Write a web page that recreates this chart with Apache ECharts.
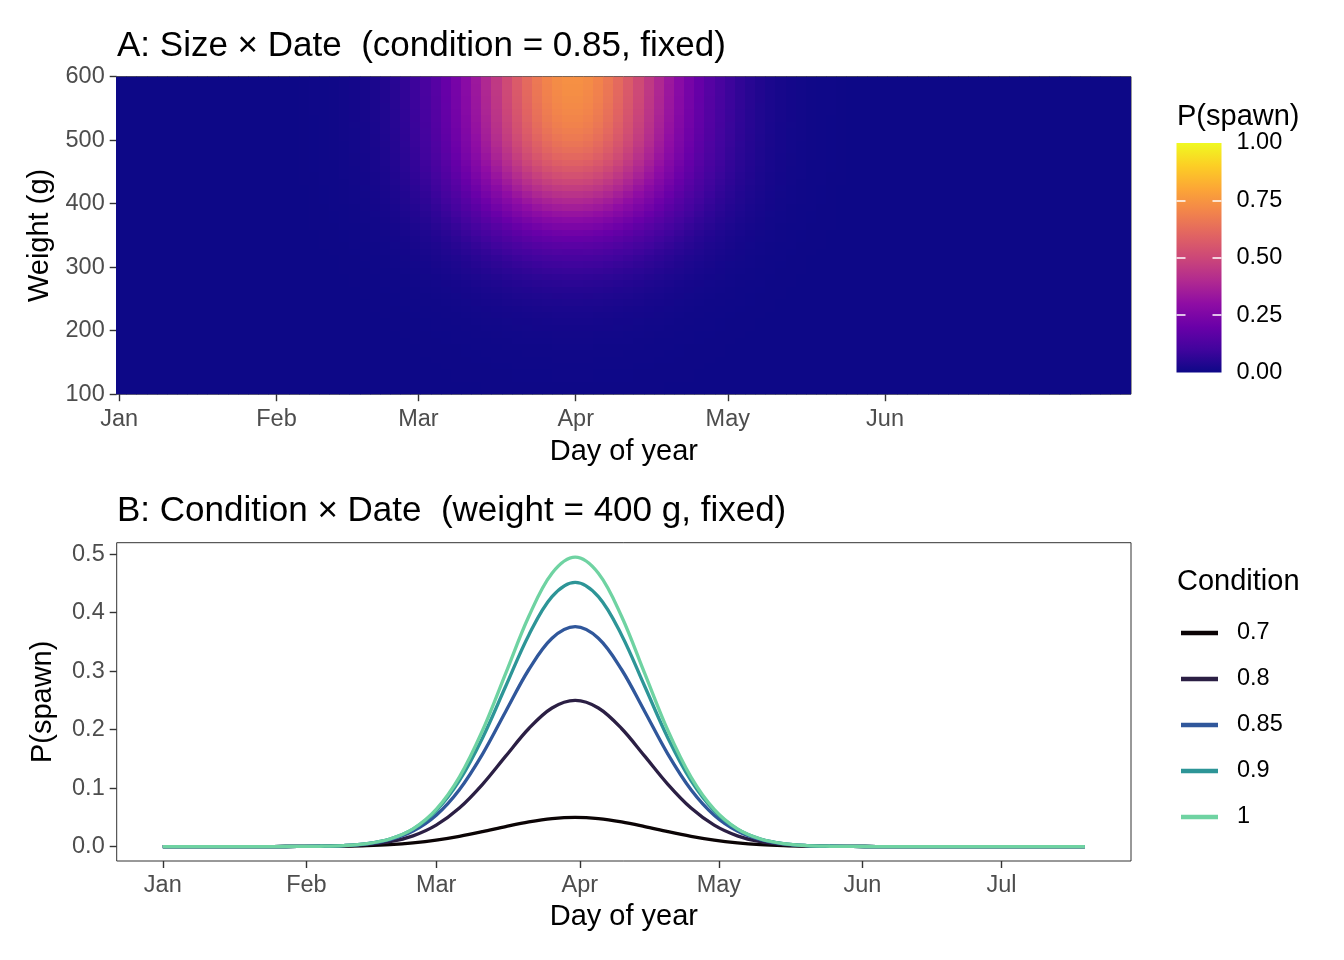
<!DOCTYPE html>
<html>
<head>
<meta charset="utf-8">
<title>P(spawn) by size, condition and date</title>
<script src="https://cdn.jsdelivr.net/npm/echarts@6/dist/echarts.min.js"></script>
<style>
  html, body { margin: 0; padding: 0; background: #fff; }
  #chart { width: 1344px; height: 960px; }
</style>
</head>
<body>
<div id="chart"></div>
<script>
// month ticks (day of year of the 1st of each month)
var monthDays = [1, 32, 60, 91, 121, 152, 182];
var monthNames = ['Jan', 'Feb', 'Mar', 'Apr', 'May', 'Jun', 'Jul'];

// panel A: cells are 2 days wide and 10 g tall
var heatDayFirst = 1.5, heatDayStep = 2;
var heatWeightFirst = 105, heatWeightStep = 10;

// relative seasonal level of each 2-day column (1 = peak, end of March)
var seasonShape = [
  0, 0, 0, 0, 0, 0, 0, 0, 0, 0, 0, 0, 0, 0, 0,
  0.001, 0.001, 0.001, 0.002, 0.004, 0.006, 0.008, 0.013, 0.018, 0.026,
  0.037, 0.052, 0.071, 0.095, 0.125, 0.162, 0.206, 0.259, 0.318, 0.385,
  0.458, 0.535, 0.615, 0.694, 0.770, 0.839, 0.899, 0.947, 0.981, 0.998,
  0.998, 0.981, 0.947, 0.899, 0.839, 0.770, 0.694, 0.615, 0.535, 0.458,
  0.385, 0.318, 0.259, 0.206, 0.162, 0.125, 0.095, 0.071, 0.052, 0.037,
  0.026, 0.018, 0.013, 0.008, 0.006, 0.004, 0.002, 0.001, 0.001, 0.001,
  0, 0, 0, 0, 0, 0, 0, 0, 0, 0, 0, 0, 0, 0, 0, 0, 0, 0, 0, 0, 0, 0, 0, 0, 0
];

// P(spawn) on the peak day for each 10 g row (105 g ... 595 g)
var sizePeak = [
  0.002, 0.002, 0.003, 0.003, 0.004, 0.005, 0.006, 0.007, 0.009, 0.011,
  0.014, 0.017, 0.021, 0.026, 0.032, 0.039, 0.047, 0.057, 0.069, 0.083,
  0.099, 0.117, 0.138, 0.162, 0.189, 0.218, 0.250, 0.285, 0.322, 0.359,
  0.395, 0.432, 0.468, 0.502, 0.535, 0.564, 0.591, 0.615, 0.636, 0.654,
  0.670, 0.684, 0.695, 0.705, 0.713, 0.720, 0.725, 0.730, 0.734, 0.737
];

// panel B: P(spawn) at 400 g for each condition
var lineDays = [1, 5, 10, 15, 20, 25, 30, 35, 40, 45, 50, 55, 60, 65, 70, 75, 80, 85, 90, 95,
  100, 105, 110, 115, 120, 125, 130, 135, 140, 145, 150, 155, 160, 165, 170, 175, 180, 185, 190, 195, 200];
var cond070 = [0, 0, 0, 0, 0, 0, 0.0001, 0.0003, 0.0007, 0.0016, 0.0033, 0.0063, 0.0109, 0.0174, 0.0254,
  0.0342, 0.0422, 0.0479, 0.0500, 0.0479, 0.0422, 0.0342, 0.0254, 0.0174, 0.0109, 0.0063, 0.0033,
  0.0016, 0.0007, 0.0003, 0.0001, 0, 0, 0, 0, 0, 0, 0, 0, 0, 0];
var cond080 = [0, 0, 0, 0, 0, 0, 0.0001, 0.0004, 0.0012, 0.0033, 0.0082, 0.0183, 0.0366, 0.0658, 0.1064,
  0.1546, 0.2019, 0.2370, 0.2500, 0.2370, 0.2019, 0.1546, 0.1064, 0.0658, 0.0366, 0.0183, 0.0082,
  0.0033, 0.0012, 0.0004, 0.0001, 0, 0, 0, 0, 0, 0, 0, 0, 0, 0];
var cond085 = [0, 0, 0, 0, 0, 0, 0.0002, 0.0005, 0.0017, 0.0047, 0.0118, 0.0265, 0.0536, 0.0972, 0.1582,
  0.2311, 0.3028, 0.3562, 0.3760, 0.3562, 0.3028, 0.2311, 0.1582, 0.0972, 0.0536, 0.0265, 0.0118,
  0.0047, 0.0017, 0.0005, 0.0002, 0, 0, 0, 0, 0, 0, 0, 0, 0, 0];
var cond090 = [0, 0, 0, 0, 0, 0, 0.0002, 0.0005, 0.0017, 0.0050, 0.0129, 0.0297, 0.0612, 0.1127, 0.1858,
  0.2741, 0.3619, 0.4275, 0.4520, 0.4275, 0.3619, 0.2741, 0.1858, 0.1127, 0.0612, 0.0297, 0.0129,
  0.0050, 0.0017, 0.0005, 0.0002, 0, 0, 0, 0, 0, 0, 0, 0, 0, 0];
var cond100 = [0, 0, 0, 0, 0, 0, 0.0001, 0.0005, 0.0016, 0.0049, 0.0128, 0.0302, 0.0635, 0.1188, 0.1986,
  0.2962, 0.3940, 0.4675, 0.4950, 0.4675, 0.3940, 0.2962, 0.1986, 0.1188, 0.0635, 0.0302, 0.0128,
  0.0049, 0.0016, 0.0005, 0.0001, 0, 0, 0, 0, 0, 0, 0, 0, 0, 0];

var condNames = ['0.7', '0.8', '0.85', '0.9', '1'];
var condSeries = [cond070, cond080, cond085, cond090, cond100];
var condColors = ['#0b0405', '#2b1f44', '#30579b', '#2d9597', '#6fd3a2'];

var plasma = ['#0d0887', '#41049d', '#6a00a8', '#8f0da4', '#b12a90', '#cc4778',
  '#e16462', '#f2844b', '#fca636', '#fcce25', '#f0f921'];

var FONT = "'Liberation Sans', Arial, sans-serif";
var tickGrey = '#4d4d4d';

// heatmap cells: season column x size row (the blob reads as the product of the two)
var heatCells = [];
for (var i = 0; i < seasonShape.length; i++) {
  for (var j = 0; j < sizePeak.length; j++) {
    heatCells.push([heatDayFirst + i * heatDayStep, heatWeightFirst + j * heatWeightStep,
      +(seasonShape[i] * sizePeak[j]).toFixed(4)]);
  }
}

function monthLabel(v) {
  var k = monthDays.indexOf(Math.round(v));
  return k >= 0 ? monthNames[k] : '';
}

var myChart = echarts.init(document.getElementById('chart'), null, { renderer: 'canvas' });

var axisTickStyle = { show: true, length: 7, lineStyle: { color: '#333', width: 1.4 } };
var labelStyle = { fontSize: 23.5, color: tickGrey, fontFamily: FONT };
var noLine = { show: false, onZero: false };

var option = {
  animation: false,
  backgroundColor: '#fff',
  textStyle: { fontFamily: FONT },
  title: [
    { text: 'A: Size \u00d7 Date  (condition = 0.85, fixed)', left: 117, top: 26, padding: 0,
      textStyle: { fontSize: 35, fontWeight: 'normal', color: '#000', lineHeight: 40 } },
    { text: 'B: Condition \u00d7 Date  (weight = 400 g, fixed)', left: 117, top: 491, padding: 0,
      textStyle: { fontSize: 35, fontWeight: 'normal', color: '#000', lineHeight: 40 } },
    { text: 'P(spawn)', left: 1177, top: 101, padding: 0,
      textStyle: { fontSize: 29, fontWeight: 'normal', color: '#000', lineHeight: 32 } },
    { text: 'Condition', left: 1177, top: 566, padding: 0,
      textStyle: { fontSize: 29, fontWeight: 'normal', color: '#000', lineHeight: 32 } }
  ],
  grid: [
    { left: 116.7, top: 76.7, width: 1014.3, height: 317.5, show: true,
      borderColor: '#333', borderWidth: 1, backgroundColor: 'transparent' },
    { left: 116.7, top: 542.7, width: 1014.3, height: 318.3, show: true,
      borderColor: '#333', borderWidth: 1, backgroundColor: 'transparent' },
    { left: 1176.5, top: 143, width: 45, height: 229.5 }
  ],
  visualMap: {
    show: false, type: 'continuous', min: 0, max: 1, dimension: 2, seriesIndex: 0,
    inRange: { color: plasma }
  },
  legend: {
    data: condNames, orient: 'vertical', left: 1181, top: 621, padding: 0,
    icon: 'rect', itemWidth: 37, itemHeight: 4.5, itemGap: 22,
    textStyle: { fontSize: 23.5, color: '#000', lineHeight: 24, padding: [0, 0, 0, 14] },
    selectedMode: false
  },
  xAxis: [
    { gridIndex: 0, type: 'value', min: 0.5, max: 200.5,
      name: 'Day of year', nameLocation: 'middle', nameGap: 43,
      nameTextStyle: { fontSize: 29, color: '#000' },
      axisLine: noLine, splitLine: { show: false },
      axisTick: Object.assign({ customValues: monthDays.slice(0, 6) }, axisTickStyle),
      axisLabel: Object.assign({ customValues: monthDays.slice(0, 6), margin: 13, formatter: monthLabel }, labelStyle) },
    { gridIndex: 1, type: 'value', min: -8.95, max: 209.95,
      name: 'Day of year', nameLocation: 'middle', nameGap: 41,
      nameTextStyle: { fontSize: 29, color: '#000' },
      axisLine: noLine, splitLine: { show: false },
      axisTick: Object.assign({ customValues: monthDays }, axisTickStyle),
      axisLabel: Object.assign({ customValues: monthDays, margin: 13, formatter: monthLabel }, labelStyle) },
    { gridIndex: 2, type: 'value', min: 0, max: 1, show: false, axisLine: noLine }
  ],
  yAxis: [
    { gridIndex: 0, type: 'value', min: 100, max: 600, interval: 100,
      name: 'Weight (g)', nameLocation: 'middle', nameGap: 59,
      nameTextStyle: { fontSize: 29, color: '#000' },
      axisLine: noLine, splitLine: { show: false },
      axisTick: axisTickStyle,
      axisLabel: Object.assign({ margin: 12, padding: [8, 0, 0, 0] }, labelStyle) },
    { gridIndex: 1, type: 'value', min: -0.02475, max: 0.5197,
      name: 'P(spawn)', nameLocation: 'middle', nameGap: 59,
      nameTextStyle: { fontSize: 29, color: '#000' },
      axisLine: noLine, splitLine: { show: false },
      axisTick: Object.assign({ customValues: [0, 0.1, 0.2, 0.3, 0.4, 0.5] }, axisTickStyle),
      axisLabel: Object.assign({ customValues: [0, 0.1, 0.2, 0.3, 0.4, 0.5], margin: 12,
        padding: [2, 0, 0, 0],
        formatter: function (v) { return v.toFixed(1); } }, labelStyle) },
    { gridIndex: 2, type: 'value', min: 0, max: 1, position: 'right', z: 10,
      axisLine: noLine, splitLine: { show: false },
      axisTick: { show: true, inside: true, length: 9, customValues: [0.25, 0.5, 0.75],
        lineStyle: { color: '#fff', width: 1.5 } },
      axisLabel: { customValues: [0, 0.25, 0.5, 0.75, 1], margin: 15, fontSize: 23.5, color: '#000',
        padding: [2, 0, 0, 0],
        formatter: function (v) { return v.toFixed(2); } } },
    { gridIndex: 2, type: 'value', min: 0, max: 1, position: 'left', z: 10,
      axisLine: noLine, splitLine: { show: false }, axisLabel: { show: false },
      axisTick: { show: true, inside: true, length: 9, customValues: [0.25, 0.5, 0.75],
        lineStyle: { color: '#fff', width: 1.5 } } }
  ],
  series: []
};

// panel A heatmap
option.series.push({
  type: 'custom',
  name: 'heat',
  xAxisIndex: 0, yAxisIndex: 0,
  data: heatCells,
  progressive: 0,
  clip: true,
  z: 1,
  renderItem: function (params, api) {
    var d = api.value(0), w = api.value(1);
    var a = api.coord([d - heatDayStep / 2, w - heatWeightStep / 2]);
    var b = api.coord([d + heatDayStep / 2, w + heatWeightStep / 2]);
    var x0 = Math.floor(a[0]), x1 = Math.ceil(b[0]);
    var y0 = Math.floor(b[1]), y1 = Math.ceil(a[1]);
    return {
      type: 'rect',
      shape: { x: x0, y: y0, width: x1 - x0, height: y1 - y0 },
      style: { fill: api.visual('color') }
    };
  }
});

// colour bar for P(spawn)
option.series.push({
  type: 'custom',
  name: 'colourbar',
  xAxisIndex: 2, yAxisIndex: 3,
  data: [[0, 0]],
  z: 1,
  renderItem: function (params, api) {
    var lo = api.coord([0, 0]), hi = api.coord([1, 1]);
    var stops = plasma.map(function (c, k) { return { offset: k / (plasma.length - 1), color: c }; });
    return {
      type: 'rect',
      shape: { x: lo[0], y: hi[1], width: hi[0] - lo[0], height: lo[1] - hi[1] },
      style: { fill: new echarts.graphic.LinearGradient(0, 1, 0, 0, stops) }
    };
  }
});

// panel B lines
condSeries.forEach(function (vals, k) {
  option.series.push({
    type: 'line',
    name: condNames[k],
    xAxisIndex: 1, yAxisIndex: 1,
    data: lineDays.map(function (d, n) { return [d, vals[n]]; }),
    symbol: 'none',
    smooth: 0.35,
    z: 2 + k,
    itemStyle: { color: condColors[k] },
    lineStyle: { color: condColors[k], width: 3.3 }
  });
});

myChart.setOption(option);
</script>
</body>
</html>
